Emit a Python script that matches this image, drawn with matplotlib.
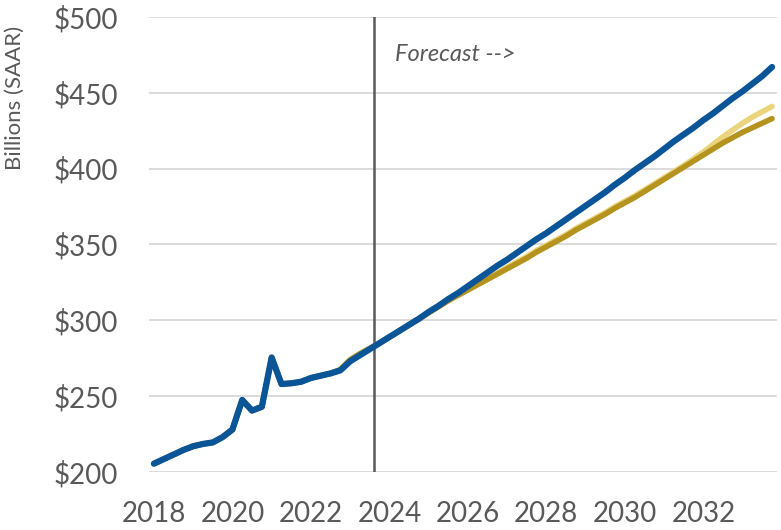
import matplotlib.pyplot as plt
from matplotlib.ticker import FuncFormatter

# quarterly dates, 2018Q1 .. 2033Q4
quarters = [2018 + i * 0.25 for i in range(64)]

# Billions (SAAR)
blue = [205.5, 208.5, 211.5, 214.5, 217, 218.5, 219.5, 223,
        228, 247.5, 240.5, 243, 275.5, 258, 258.5, 259.5,
        262, 263.5, 265, 267, 273, 277, 281, 285,
        289, 293, 297, 301, 305.5, 309.5, 314, 318,
        322.5, 327, 331.5, 336, 340, 344.5, 349, 353.5,
        357.5, 362, 366.5, 371, 375.5, 380, 384.5, 389.5,
        394, 399, 403.5, 408, 413, 418, 422.5, 427,
        432, 436.5, 441.5, 446.5, 451, 456, 461, 467]
gold_dark = [205.5, 208.5, 211.5, 214.5, 217, 218.5, 219.5, 223,
             228, 247.5, 240.5, 243, 275.5, 258, 258.5, 259.5,
             262, 263.5, 265, 267.5, 274, 278, 281.5, 285,
             289, 293, 297, 301, 305, 309, 313, 316.5,
             320, 323.5, 327, 330.5, 334, 337.5, 341, 345,
             348.5, 352, 355.5, 359.5, 363, 366.5, 370, 374,
             377.5, 381, 385, 389, 393, 397, 401, 405,
             409, 413, 417, 420.5, 424, 427, 430, 433]
gold_light = [205.5, 208.5, 211.5, 214.5, 217, 218.5, 219.5, 223,
              228, 247.5, 240.5, 243, 275.5, 258, 258.5, 259.5,
              262, 263.5, 265, 267.5, 274, 278, 281.5, 285,
              289, 293, 297, 301, 305, 309, 313, 317,
              320.5, 324, 327.5, 331, 335, 338.5, 342, 346,
              349.5, 353, 356.5, 360.5, 364, 367.5, 371, 375,
              378.5, 382, 386, 390, 394, 398, 402, 406.5,
              411, 416, 421, 425.5, 430, 434, 437.5, 441]

forecast_start = 2023.61
year_ticks = [2018, 2020, 2022, 2024, 2026, 2028, 2030, 2032]

plt.rcParams['font.family'] = ['Lato', 'DejaVu Sans']
grey = '#595959'

fig = plt.figure(figsize=(7.81, 5.30), dpi=100)
ax = fig.add_axes([0.1908, 0.1094, 0.804, 0.8586])

ax.plot(quarters, gold_light, color='#EBD47C', lw=4.0, solid_capstyle='round', zorder=3)
ax.plot(quarters, gold_dark, color='#B5931F', lw=4.0, solid_capstyle='round', zorder=4)
ax.plot(quarters, blue, color='#0A5597', lw=4.5, solid_capstyle='round', zorder=5)

ax.axvline(forecast_start, color=grey, lw=1.8, zorder=2)
ax.text(forecast_start + 0.54, 475.5, 'Forecast -->', style='italic', color=grey,
        fontsize=17, va='center', ha='left')

ax.set_xlim(2017.875, 2033.875)
ax.set_ylim(200, 500)
ax.set_yticks(range(200, 501, 50))
ax.yaxis.set_major_formatter(FuncFormatter(lambda v, p: '${:.0f}'.format(v)))
ax.set_xticks(year_ticks)

ax.grid(axis='y', color='#D9D9D9', lw=1.3, zorder=0)
ax.set_axisbelow(True)
for s in ax.spines.values():
    s.set_visible(False)
ax.tick_params(length=0, labelsize=20, labelcolor=grey)
ax.tick_params(axis='y', pad=22)
ax.tick_params(axis='x', pad=21)
ax.set_ylabel('Billions (SAAR)', fontsize=16, color=grey)
ax.yaxis.set_label_coords(-0.197, 0.822)

fig.savefig('out.png', dpi=100)
